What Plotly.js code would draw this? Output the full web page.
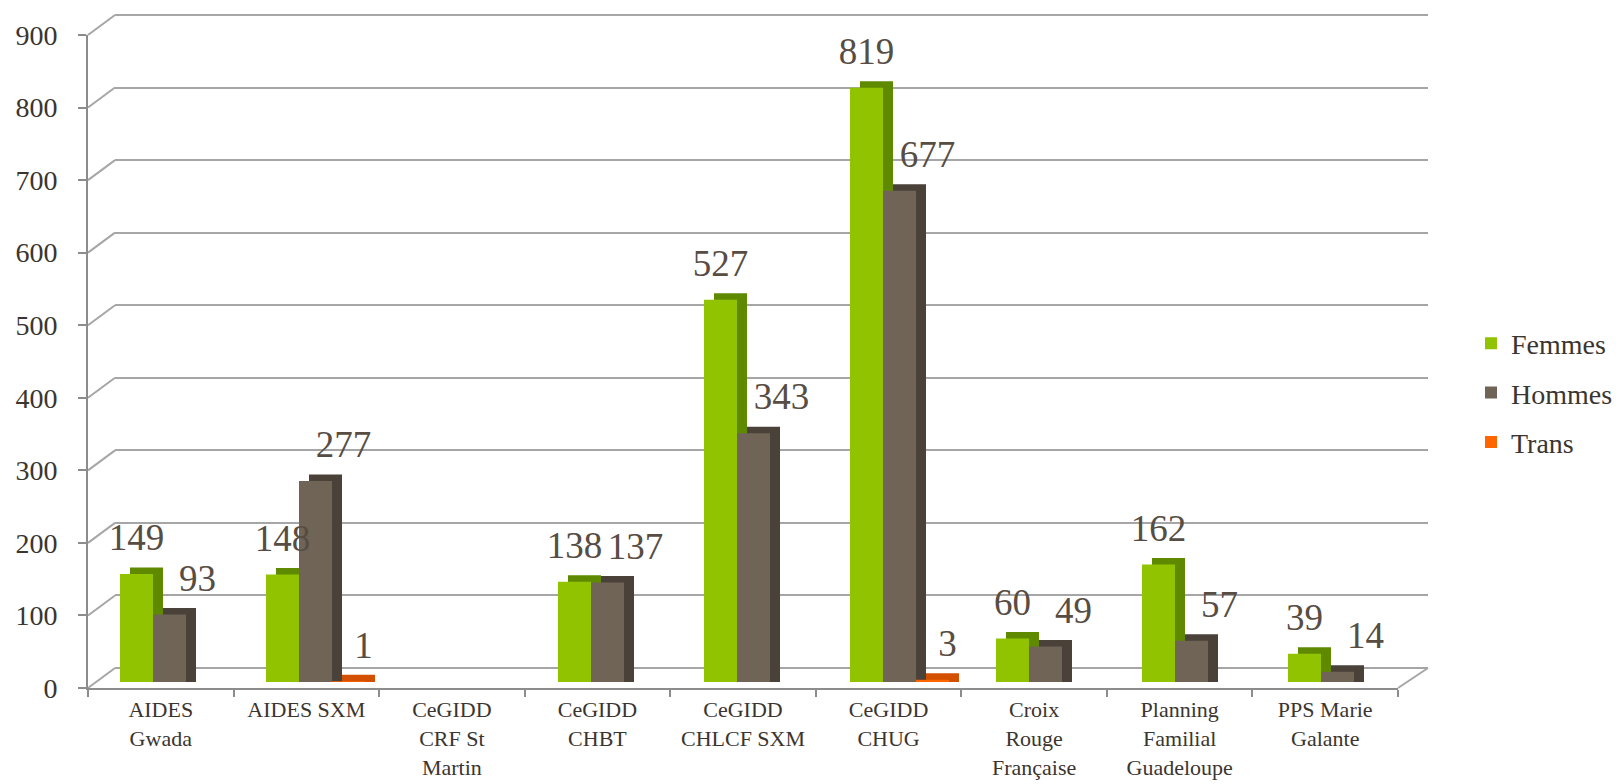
<!DOCTYPE html>
<html>
<head>
<meta charset="utf-8">
<script src="https://cdn.plot.ly/plotly-3.0.1.min.js"></script>
<style>html,body{margin:0;padding:0;background:#fff;}#chart{width:1621px;height:784px;}</style>
</head>
<body>
<div id="chart"></div>
<script>
// ---- data ----
const categories = ["AIDES<br>Gwada", "AIDES SXM", "CeGIDD<br>CRF St<br>Martin", "CeGIDD<br>CHBT",
  "CeGIDD<br>CHLCF SXM", "CeGIDD<br>CHUG", "Croix<br>Rouge<br>Française",
  "Planning<br>Familial<br>Guadeloupe", "PPS Marie<br>Galante"];
const seriesNames = ["Femmes", "Hommes", "Trans"];
const femmes = [149, 148, null, 138, 527, 819, 60, 162, 39];
const hommes = [93, 277, null, 137, 343, 677, 49, 57, 14];
const trans  = [null, 1, null, null, null, 3, null, null, null];
const yTicks = [0, 100, 200, 300, 400, 500, 600, 700, 800, 900];

// ---- geometry / style ----
const W = 1621, H = 784;
const px = v => v / W;
const py = v => 1 - v / H;
const K = (688 - 35) / 900;          // px per unit
const catPx = 146;                   // px per category (bars)
const barW = 33 / catPx;
const depthX = 10 / catPx;
const depthY = 6.5 / K;
const labelShiftPx = [0, 28, 15];
const liftUnits = 8 / K;
const frontCol = ["#92c300", "#706457", "#ff6600"];
const sideCol = ["#5f8a00", "#4a4139", "#d35000"];
const txtCol = "#3b3530";
const lblCol = "#574d43";
const gridCol = "#a6a6a6";
const FONT = "Liberation Serif, Times New Roman, serif";

const allSeries = [femmes, hommes, trans];
const idx = categories.map((c, i) => i);
const traces = [];

// empty traces so the back-wall and front-axis subplots are built
traces.push({type: "scatter", x: [], y: [], xaxis: "x", yaxis: "y", showlegend: false, hoverinfo: "skip"});
traces.push({type: "scatter", x: [], y: [], xaxis: "x3", yaxis: "y3", showlegend: false, hoverinfo: "skip"});

allSeries.forEach((vals, s) => {
  const off = -1.5 * barW + s * barW;
  // depth (side/top) face
  traces.push({
    type: "bar", x: idx, y: vals.map(v => v === null ? null : v + depthY), base: 0,
    width: barW, offset: off + depthX,
    xaxis: "x2", yaxis: "y2", marker: {color: sideCol[s], line: {width: 0}},
    showlegend: false, hoverinfo: "skip"
  });
  // front face
  traces.push({
    type: "bar", x: idx, y: vals, width: barW, offset: off, name: seriesNames[s],
    xaxis: "x2", yaxis: "y2", marker: {color: frontCol[s], line: {width: 0}},
    legendgroup: seriesNames[s], showlegend: true
  });
});
allSeries.forEach((vals, s) => {
  const off = -1.5 * barW + s * barW + barW / 2 + labelShiftPx[s] / catPx;
  const xs = [], ys = [], ts = [];
  vals.forEach((v, i) => { if (v !== null) { xs.push(i + off); ys.push(v + depthY + liftUnits); ts.push(String(v)); } });
  traces.push({
    type: "scatter", mode: "text", x: xs, y: ys, text: ts, textposition: "top center",
    textfont: {family: FONT, size: 37, color: lblCol}, xaxis: "x2", yaxis: "y2",
    showlegend: false, hoverinfo: "skip", cliponaxis: false
  });
});

// perspective lines (left wall diagonals from front ticks to back grid)
const shapes = yTicks.map(v => ({
  type: "line", xref: "paper", yref: "paper",
  x0: px(88), y0: py(688 - v * K), x1: px(115), y1: py(668 - v * K),
  line: {color: gridCol, width: 2}, layer: "below"
}));
shapes.push({type: "line", xref: "paper", yref: "paper",
  x0: px(1398), y0: py(688), x1: px(1428), y1: py(668),
  line: {color: gridCol, width: 2}, layer: "below"});

const layout = {
  width: W, height: H, margin: {l: 0, r: 0, t: 0, b: 0},
  paper_bgcolor: "#ffffff", plot_bgcolor: "rgba(0,0,0,0)",
  font: {family: FONT, color: txtCol},
  barmode: "overlay", showlegend: true,
  // back wall grid
  xaxis: {domain: [px(115), px(1428)], range: [0, 1], visible: false, fixedrange: true},
  yaxis: {domain: [py(668 + 10 * K), py(15 - 10 * K)], range: [-10, 910], anchor: "x",
    tickvals: yTicks, showticklabels: false, ticks: "", showline: false,
    showgrid: true, gridcolor: gridCol, gridwidth: 2,
    zeroline: true, zerolinecolor: gridCol, zerolinewidth: 2},
  // bars
  xaxis2: {domain: [px(96.5), px(96.5 + 9 * catPx)], range: [-0.5, 8.5], anchor: "y2",
    visible: false},
  yaxis2: {domain: [py(682), py(682 - 900 * K)], range: [0, 900], anchor: "x2",
    visible: false},
  // front axes
  xaxis3: {domain: [px(88), px(1398)], range: [0, 9], anchor: "y3",
    tickvals: idx.map(i => i + 0.5), ticktext: categories, ticks: "",
    tickfont: {family: FONT, size: 22, color: txtCol}, ticklabelstandoff: 1,
    showline: true, linecolor: "#8c8c8c", linewidth: 2, showgrid: false, zeroline: false,
    minor: {tickmode: "linear", tick0: 0, dtick: 1, ticks: "outside", ticklen: 7,
      tickwidth: 2, tickcolor: "#8c8c8c", showgrid: false}},
  yaxis3: {domain: [py(688), py(35)], range: [0, 900], anchor: "x3",
    tickvals: yTicks, ticks: "outside", ticklen: 8, tickwidth: 2, tickcolor: "#8c8c8c",
    tickfont: {family: FONT, size: 28, color: txtCol}, ticklabelstandoff: 15,
    showline: true, linecolor: "#8c8c8c", linewidth: 2, showgrid: false, zeroline: false},
  legend: {x: px(1471), y: py(393), xanchor: "left", yanchor: "middle",
    font: {family: FONT, size: 28, color: txtCol}, itemwidth: 30,
    traceorder: "grouped", tracegroupgap: 10, bgcolor: "rgba(0,0,0,0)"},
  shapes: shapes
};

Plotly.newPlot("chart", traces, layout, {displayModeBar: false, staticPlot: true});
</script>
</body>
</html>
